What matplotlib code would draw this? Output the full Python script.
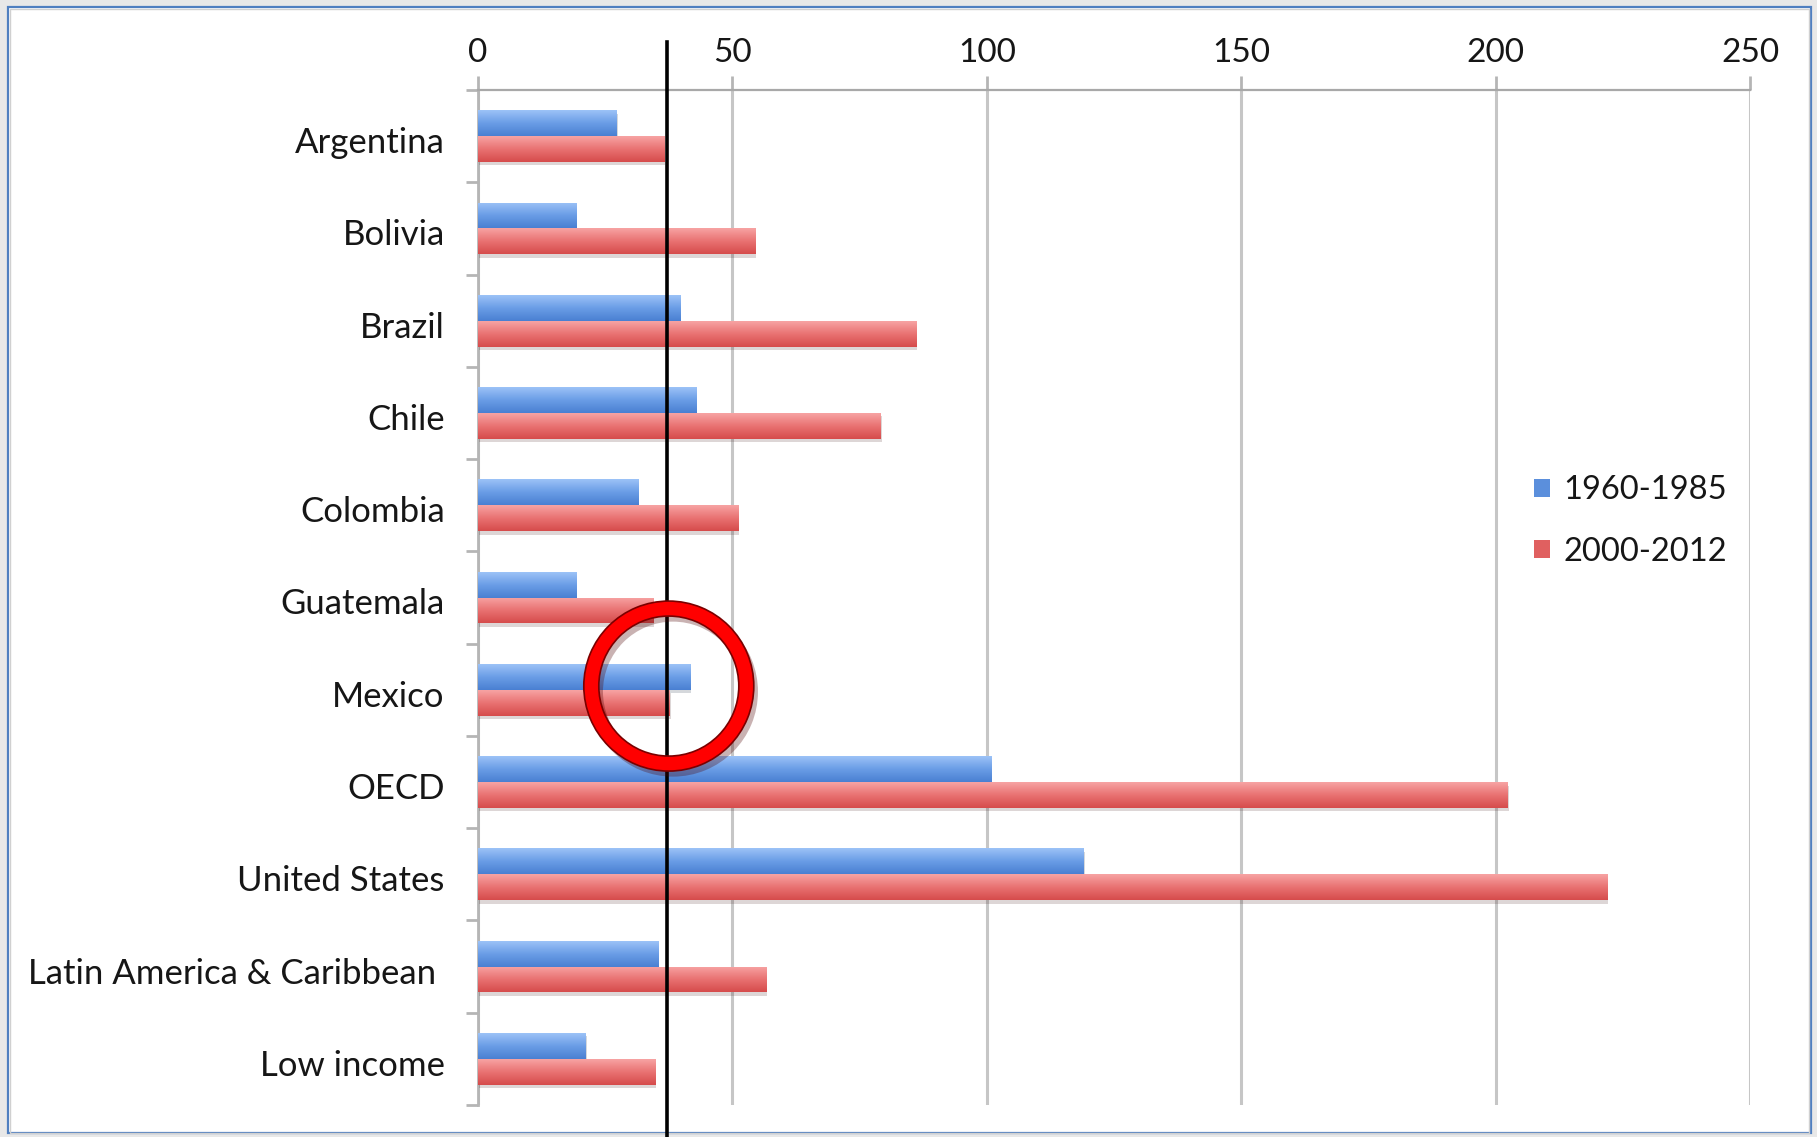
import numpy as np
import matplotlib
matplotlib.use("Agg")
import matplotlib.pyplot as plt
import matplotlib.patheffects as pe
from matplotlib.patches import Rectangle, Wedge
from matplotlib.transforms import IdentityTransform, ScaledTranslation
from matplotlib.colors import LinearSegmentedColormap

# data
countries = ["Argentina", "Bolivia", "Brazil", "Chile", "Colombia", "Guatemala",
             "Mexico", "OECD", "United States", "Latin America & Caribbean ",
             "Low income"]
period_1960_1985 = [27.3, 19.4, 39.8, 43.0, 31.6, 19.4, 41.8, 100.9, 119.1, 35.5, 21.2]
period_2000_2012 = [36.7, 54.6, 86.1, 79.2, 51.2, 34.4, 37.7, 202.4, 222.0, 56.7, 34.8]
series_labels = ["1960-1985", "2000-2012"]
x_ticks = [0, 50, 100, 150, 200, 250]
marker_value = 37.2
highlight = "Mexico"

plt.rcParams["font.family"] = ["Lato", "DejaVu Sans"]

W, H = 1817, 1137
fig = plt.figure(figsize=(W / 100, H / 100), dpi=100)
fig.patch.set_facecolor("#e8e8e8")

# white slide frame with blue border
fig.add_artist(Rectangle((8 / W, 4 / H), 1803 / W, (H - 11) / H,
                         transform=fig.transFigure, facecolor="white",
                         edgecolor="#4f7fc0", lw=1.6, zorder=0))
fig.add_artist(Rectangle((10 / W, 4 / H), 1799 / W, (H - 13) / H,
                         transform=fig.transFigure, facecolor="none",
                         edgecolor="#d0d0d0", lw=1.0, zorder=0))

ax = fig.add_axes([478 / W, 1 - 1105 / H, (1750 - 478) / W, (1105 - 90) / H])
ax.set_facecolor("none")

y = np.arange(len(countries))
h = 0.28
blue_cmap = LinearSegmentedColormap.from_list("b", ["#9cc2f7", "#6a9de6", "#4a80d2"])
red_cmap = LinearSegmentedColormap.from_list("r", ["#f7a3a3", "#e97272", "#d64c4c"])
grad = np.linspace(0, 1, 64).reshape(-1, 1)

shadow = [pe.SimplePatchShadow(offset=(0.5, -2.5), alpha=0.18), pe.Normal()]
bars_b = ax.barh(y - h / 2, period_1960_1985, height=h, color="#5b8fdc",
                 zorder=3, path_effects=shadow)
bars_r = ax.barh(y + h / 2, period_2000_2012, height=h, color="#e06060",
                 zorder=3, path_effects=shadow)

for bars, cmap in [(bars_b, blue_cmap), (bars_r, red_cmap)]:
    for bar in bars:
        x0, y0 = bar.get_x(), bar.get_y()
        im = ax.imshow(grad, cmap=cmap, aspect="auto", zorder=4,
                       extent=(x0, x0 + bar.get_width(), y0 + bar.get_height(), y0))
        im.set_clip_path(bar)

ax.set_xlim(0, 250)
ax.set_ylim(len(countries) - 0.5, -0.5)

# axes styling, Excel-like
ax.xaxis.tick_top()
ax.set_xticks(x_ticks)
ax.tick_params(axis="x", length=10, width=2, color="#b5b5b5", pad=6,
               labelsize=24, labelcolor="#161616")
ax.grid(axis="x", color="#c6c6c6", lw=2.2)
ax.set_axisbelow(True)
ax.set_yticks(y)
ax.set_yticklabels(countries)
ax.tick_params(axis="y", length=0, pad=24, labelsize=25, labelcolor="#161616")
ax.set_yticks(np.arange(-0.5, len(countries), 1), minor=True)
ax.tick_params(axis="y", which="minor", length=8.5, width=2, color="#b5b5b5")
# Excel sets category labels a little below the band centre
nudge = ScaledTranslation(0, -4 / 100, fig.dpi_scale_trans)
for lab in ax.get_yticklabels():
    lab.set_transform(lab.get_transform() + nudge)
for s in ["right", "bottom"]:
    ax.spines[s].set_visible(False)
ax.spines["top"].set_color("#a8a8a8")
ax.spines["top"].set_linewidth(1.6)
ax.spines["left"].set_color("#b5b5b5")
ax.spines["left"].set_linewidth(2)

# legend
handles = [Rectangle((0, 0), 1, 1, facecolor="#5b8fdc"),
           Rectangle((0, 0), 1, 1, facecolor="#e06060")]
fig.legend(handles, series_labels, loc="center left",
           bbox_to_anchor=(1534 / W, 1 - 521 / H), frameon=False, fontsize=23.5,
           handlelength=0.5, handleheight=0.5, handletextpad=0.4,
           labelspacing=0.95, borderpad=0, borderaxespad=0, labelcolor="#161616")

# black reference line
ax.axvline(marker_value, ymin=-0.035, ymax=1.047, color="black", lw=2.6,
           clip_on=False, zorder=6)

# red highlight ring around Mexico
cx, cy = ax.transData.transform((marker_value + 0.3, countries.index(highlight) - 0.04))
ring = Wedge((cx, cy), 85, 0, 360, width=15, transform=IdentityTransform(),
             facecolor="#ff0000", edgecolor="#7a0000", lw=1.2, zorder=10,
             path_effects=[pe.SimplePatchShadow(offset=(3, -4), alpha=0.3),
                           pe.Normal()])
fig.add_artist(ring)

fig.savefig("out.png", dpi=100, facecolor=fig.get_facecolor())
